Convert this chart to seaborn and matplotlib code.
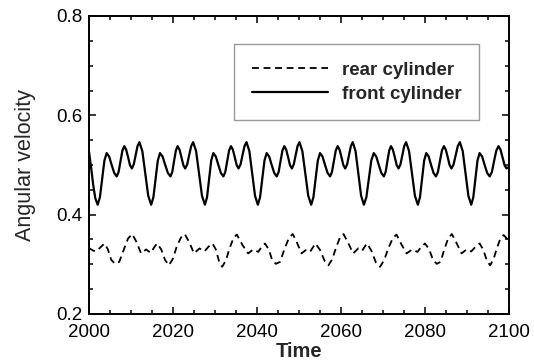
import matplotlib
matplotlib.use("Agg")
import matplotlib.pyplot as plt
import seaborn as sns
import pandas as pd
from matplotlib.ticker import MultipleLocator

# ---------------- data ----------------
time_front = [
    2000.0, 2000.5, 2001.0, 2001.5,
    2002.07, 2002.60, 2003.14, 2003.67, 2004.2, 2004.8, 2005.4, 2006.0, 2006.6,
    2007.05, 2007.5, 2007.95, 2008.4, 2008.85, 2009.3, 2009.75, 2010.2,
    2010.65, 2011.1, 2011.55, 2012.0, 2012.7, 2013.4, 2014.1,
    2014.8, 2015.33, 2015.85, 2016.38, 2016.9, 2017.53, 2018.15, 2018.78, 2019.4,
    2019.83, 2020.25, 2020.68, 2021.1, 2021.55, 2022.0, 2022.45, 2022.9,
    2023.38, 2023.85, 2024.33, 2024.8, 2025.5, 2026.2, 2026.9,
    2027.6, 2028.1, 2028.6, 2029.1, 2029.6, 2030.2, 2030.8, 2031.4, 2032.0,
    2032.45, 2032.9, 2033.35, 2033.8, 2034.25, 2034.7, 2035.15, 2035.6,
    2036.08, 2036.55, 2037.03, 2037.5, 2038.18, 2038.85, 2039.53,
    2040.2, 2040.73, 2041.25, 2041.78, 2042.3, 2042.9, 2043.5, 2044.1, 2044.7,
    2045.15, 2045.6, 2046.05, 2046.5, 2046.95, 2047.4, 2047.85, 2048.3,
    2048.75, 2049.2, 2049.65, 2050.1, 2050.8, 2051.5, 2052.2,
    2052.9, 2053.43, 2053.95, 2054.48, 2055.0, 2055.6, 2056.2, 2056.8, 2057.4,
    2057.85, 2058.3, 2058.75, 2059.2, 2059.65, 2060.1, 2060.55, 2061.0,
    2061.45, 2061.9, 2062.35, 2062.8, 2063.46, 2064.13, 2064.79,
    2065.45, 2066.04, 2066.63, 2067.21, 2067.8, 2068.4, 2069.0, 2069.6, 2070.2,
    2070.63, 2071.05, 2071.48, 2071.9, 2072.35, 2072.8, 2073.25, 2073.7,
    2074.15, 2074.6, 2075.05, 2075.5, 2076.2, 2076.9, 2077.6,
    2078.3, 2078.8, 2079.3, 2079.8, 2080.3, 2080.88, 2081.45, 2082.03, 2082.6,
    2083.08, 2083.55, 2084.03, 2084.5, 2084.95, 2085.4, 2085.85, 2086.3,
    2086.8, 2087.3, 2087.8, 2088.3, 2088.98, 2089.65, 2090.33,
    2091.0, 2091.5, 2092.0, 2092.5, 2093.0, 2093.6, 2094.2, 2094.8, 2095.4,
    2095.93, 2096.45, 2096.98, 2097.5, 2097.98, 2098.45, 2098.93, 2099.4, 2100.0,
]
front_cylinder = [
    0.527, 0.495, 0.460, 0.433,
    0.420, 0.435, 0.472, 0.509, 0.524, 0.517, 0.500, 0.484, 0.477,
    0.486, 0.508, 0.529, 0.538, 0.531, 0.516, 0.500, 0.493,
    0.501, 0.520, 0.538, 0.546, 0.528, 0.483, 0.438,
    0.420, 0.435, 0.472, 0.509, 0.524, 0.517, 0.500, 0.484, 0.477,
    0.486, 0.508, 0.529, 0.538, 0.531, 0.516, 0.500, 0.493,
    0.501, 0.520, 0.538, 0.546, 0.528, 0.483, 0.438,
    0.420, 0.435, 0.472, 0.509, 0.524, 0.517, 0.500, 0.484, 0.477,
    0.486, 0.508, 0.529, 0.538, 0.531, 0.516, 0.500, 0.493,
    0.501, 0.520, 0.538, 0.546, 0.528, 0.483, 0.438,
    0.420, 0.435, 0.472, 0.509, 0.524, 0.517, 0.500, 0.484, 0.477,
    0.486, 0.508, 0.529, 0.538, 0.531, 0.516, 0.500, 0.493,
    0.501, 0.520, 0.538, 0.546, 0.528, 0.483, 0.438,
    0.420, 0.435, 0.472, 0.509, 0.524, 0.517, 0.500, 0.484, 0.477,
    0.486, 0.508, 0.529, 0.538, 0.531, 0.516, 0.500, 0.493,
    0.501, 0.520, 0.538, 0.546, 0.528, 0.483, 0.438,
    0.420, 0.435, 0.472, 0.509, 0.524, 0.517, 0.500, 0.484, 0.477,
    0.486, 0.508, 0.529, 0.538, 0.531, 0.516, 0.500, 0.493,
    0.501, 0.520, 0.538, 0.546, 0.528, 0.483, 0.438,
    0.420, 0.435, 0.472, 0.509, 0.524, 0.517, 0.500, 0.484, 0.477,
    0.486, 0.508, 0.529, 0.538, 0.531, 0.516, 0.500, 0.493,
    0.501, 0.520, 0.538, 0.546, 0.528, 0.483, 0.438,
    0.420, 0.435, 0.472, 0.509, 0.524, 0.517, 0.500, 0.484, 0.477,
    0.486, 0.508, 0.529, 0.538, 0.531, 0.516, 0.500, 0.493, 0.496,
]

time_rear = [
    2000.0, 2000.9, 2001.7, 2002.7, 2003.7, 2004.5, 2005.3, 2006.2, 2007.2, 2008.3,
    2009.3, 2010.3, 2011.3, 2012.4, 2013.6, 2014.7, 2015.5, 2016.2, 2017.2, 2018.1,
    2019.0, 2019.9, 2020.9, 2021.9, 2022.8, 2023.9, 2025.0, 2026.3, 2027.5, 2028.5,
    2029.4, 2030.2, 2031.0, 2031.7, 2032.6, 2033.5, 2034.4, 2035.2, 2036.6, 2037.9,
    2039.1, 2040.3, 2041.1, 2041.9, 2042.8, 2043.6, 2044.5, 2045.5, 2046.5, 2047.6,
    2048.5, 2049.5, 2050.6, 2051.8, 2052.7, 2053.3, 2053.9, 2055.0, 2056.1, 2057.0,
    2057.9, 2058.8, 2059.7, 2060.6, 2061.7, 2062.9, 2064.1, 2065.0, 2065.6, 2066.2,
    2067.2, 2068.3, 2069.3, 2070.3, 2071.3, 2072.3, 2073.2, 2074.4, 2075.6, 2077.0,
    2078.2, 2079.1, 2080.0, 2081.0, 2081.9, 2082.8, 2083.7, 2084.6, 2085.5, 2086.4,
    2087.5, 2088.7, 2089.9, 2091.0, 2092.0, 2093.0, 2093.9, 2094.7, 2095.5, 2096.3,
    2097.1, 2097.9, 2098.7, 2099.4, 2100.0,
]
rear_cylinder = [
    0.333, 0.328, 0.326, 0.334, 0.342, 0.330, 0.309, 0.301, 0.305, 0.330,
    0.352, 0.361, 0.345, 0.322, 0.330, 0.323, 0.334, 0.342, 0.330, 0.309,
    0.298, 0.310, 0.336, 0.354, 0.361, 0.344, 0.322, 0.332, 0.326, 0.336,
    0.342, 0.330, 0.305, 0.295, 0.308, 0.333, 0.353, 0.360, 0.338, 0.322,
    0.330, 0.325, 0.335, 0.342, 0.330, 0.309, 0.301, 0.305, 0.330, 0.353,
    0.361, 0.344, 0.322, 0.330, 0.326, 0.334, 0.342, 0.329, 0.307, 0.298,
    0.310, 0.333, 0.353, 0.361, 0.343, 0.322, 0.332, 0.327, 0.335, 0.342,
    0.328, 0.304, 0.295, 0.309, 0.333, 0.352, 0.360, 0.340, 0.322, 0.330,
    0.325, 0.335, 0.342, 0.330, 0.309, 0.301, 0.305, 0.330, 0.352, 0.361,
    0.343, 0.322, 0.330, 0.326, 0.335, 0.342, 0.329, 0.308, 0.298, 0.310,
    0.332, 0.351, 0.359, 0.353, 0.345,
]

series_labels = ["rear cylinder", "front cylinder"]
x_ticks = [2000, 2020, 2040, 2060, 2080, 2100]
y_ticks = [0.2, 0.4, 0.6, 0.8]

# ---------------- figure ----------------
sns.set_style("ticks")
plt.rcParams["font.family"] = ["Liberation Sans", "DejaVu Sans"]

fig = plt.figure(figsize=(5.34, 3.62), dpi=100)
ax = fig.add_axes([89 / 534, 1 - 314 / 362, 420 / 534, 298 / 362])

df_rear = pd.DataFrame({"t": time_rear, "v": rear_cylinder})
df_front = pd.DataFrame({"t": time_front, "v": front_cylinder})

sns.lineplot(data=df_rear, x="t", y="v", ax=ax, color="black", lw=1.3,
             sort=False, estimator=None, label=series_labels[0],
             dashes=False)
sns.lineplot(data=df_front, x="t", y="v", ax=ax, color="black", lw=1.6,
             sort=False, estimator=None, label=series_labels[1])
ax.lines[0].set_dashes([3.8, 2.6])

ax.set_xlim(2000, 2100)
ax.set_ylim(0.2, 0.8)
ax.set_xticks(x_ticks)
ax.set_yticks(y_ticks)
ax.set_xticklabels([str(v) for v in x_ticks])
ax.set_yticklabels([f"{v:.1f}" for v in y_ticks])
ax.xaxis.set_minor_locator(MultipleLocator(5))
ax.yaxis.set_minor_locator(MultipleLocator(0.05))

ax.tick_params(which="both", direction="in", top=True, right=True,
               colors="black", width=1.1)
ax.tick_params(which="major", length=5, labelsize=13.5)
ax.tick_params(which="minor", length=3)
ax.tick_params(axis="x", which="major", pad=7)
ax.tick_params(axis="y", which="major", pad=5)
for s in ax.spines.values():
    s.set_visible(True)
    s.set_linewidth(1.4)
    s.set_color("black")

ax.set_xlabel("Time", fontsize=14.5, fontweight="bold", labelpad=1)
ax.set_ylabel("Angular velocity", fontsize=15.5, labelpad=14)

leg = ax.legend(loc="upper right", bbox_to_anchor=(0.9286, 0.906),
                borderaxespad=0, frameon=True, fancybox=False,
                prop={"weight": "bold", "size": 13.5},
                handlelength=4.1, handletextpad=0.7, labelspacing=0.35,
                borderpad=0.95)
leg.get_frame().set_edgecolor("#999999")
leg.get_frame().set_linewidth(1.0)
leg.get_frame().set_alpha(1)

fig.savefig("out.png", dpi=100)
